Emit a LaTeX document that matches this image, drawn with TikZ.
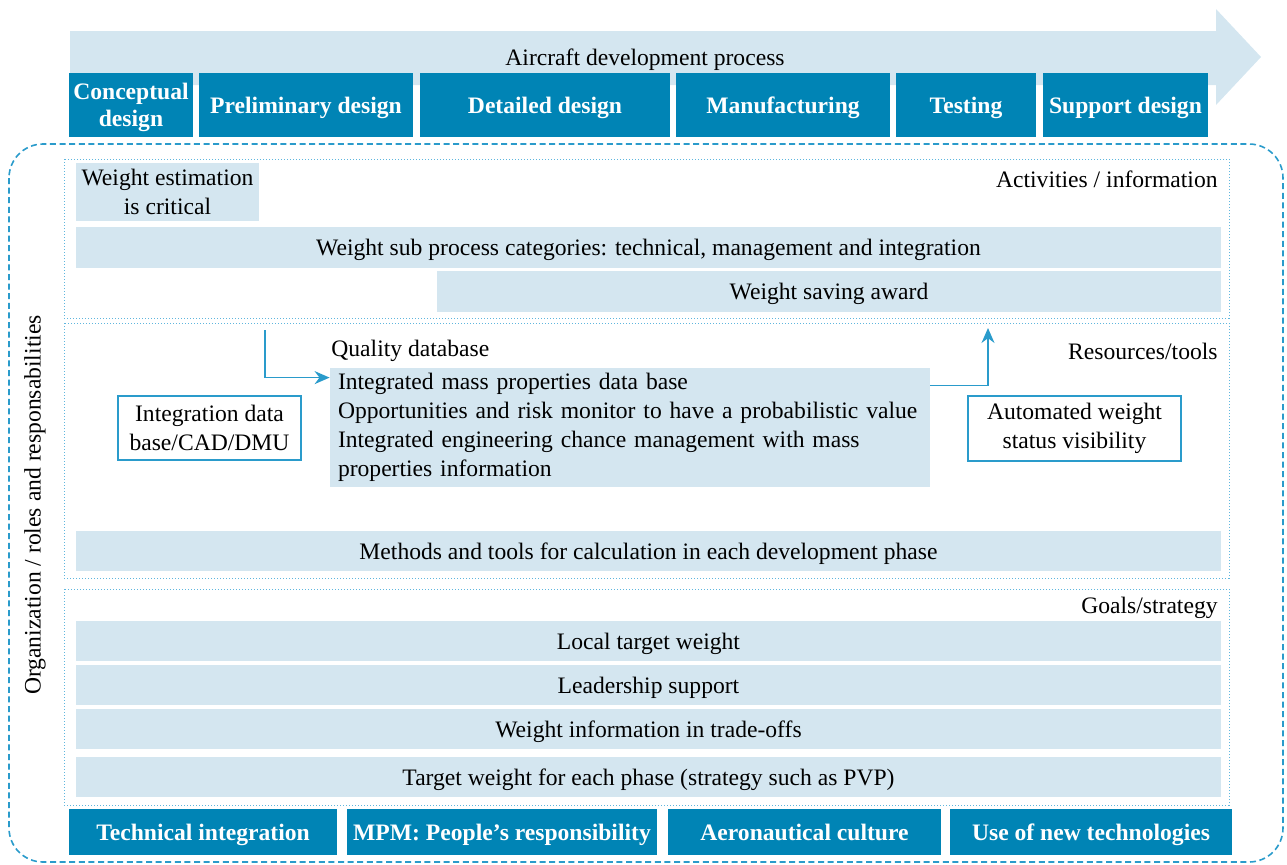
\documentclass[tikz,border=0pt]{standalone}
\usepackage{fontspec}
\setmainfont{Liberation Serif}
\usepackage{tikz}
\usetikzlibrary{arrows.meta}
\definecolor{phaseblue}{RGB}{0,132,181}
\definecolor{paleblue}{RGB}{212,230,240}
\definecolor{lineblue}{RGB}{42,155,203}
\definecolor{dotblue}{RGB}{95,182,222}
\tikzset{
  phase/.style = {fill=phaseblue, text=white, inner sep=0pt, text depth=0pt, font=\bfseries\fontsize{11.8}{13.5}\selectfont, align=center},
  bar/.style = {fill=paleblue, inner sep=0pt, text depth=0pt, align=center},
  note/.style = {fill=paleblue, inner sep=0pt, text width=292pt, align=left},
  tool/.style = {draw=lineblue, line width=0.8pt, fill=white, inner sep=0pt, align=center},
  layer/.style = {draw=dotblue, densely dotted, line width=0.5pt},
  tag/.style = {inner sep=0pt},
  flow/.style = {draw=lineblue, line width=0.8pt, -{Stealth[length=7.5pt,width=6.5pt]}}
}
% block from corner (x1,y1) to corner (x2,y2), in pixel units
\newcommand{\blk}[7]{\node[#2, minimum width={(#5-#3)*0.5pt}, minimum height={(#6-#4)*0.5pt}] (#1) at ({(#3+#5)/2},{(#4+#6)/2}) {#7};}

\begin{document}
\begin{tikzpicture}[x=0.5pt, y=-0.5pt, font=\fontsize{11.8}{14.5}\selectfont]
\useasboundingbox (0,0) rectangle (1287,864);
% process arrow
\fill[paleblue] (70,31) -- (1216,31) -- (1216,9) -- (1261,57) -- (1216,105) -- (1216,85) -- (70,85) -- cycle;
\node[tag] (process) at (645,60) {Aircraft development process};
\blk{concept}{phase}{69}{73}{193}{137}{Conceptual\\design}
\blk{prelim}{phase}{199}{73}{413}{137}{Preliminary design}
\blk{detail}{phase}{420}{73}{670}{137}{Detailed design}
\blk{manuf}{phase}{676}{73}{890}{137}{Manufacturing}
\blk{testing}{phase}{896}{73}{1036}{137}{Testing}
\blk{support}{phase}{1043}{73}{1208}{137}{Support design}

% organization frame
\draw[lineblue, line width=0.8pt, dash pattern=on 3pt off 1.8pt, rounded corners=17pt] (9,144) rectangle (1283,862);
\node[tag, rotate=90] (org) at (35,505) {Organization / roles and responsabilities};

% activities / information
\draw[layer] (64,159) rectangle (1229,318);
\node[tag, anchor=east] (activ) at (1218,179) {Activities / information};
\blk{critical}{bar}{76}{163}{259}{221}{Weight estimation\\is critical}
\blk{subproc}{bar}{76}{227}{1221}{268}{Weight sub process categories: technical, management and integration}
\blk{award}{bar}{437}{271}{1221}{312}{Weight saving award}

% resources / tools
\draw[layer] (64,323) rectangle (1229,578);
\node[tag, anchor=east] (resour) at (1218,351) {Resources/tools};
\node[tag, anchor=west] (quality) at (331,351) {Quality database};
\blk{qdb}{note}{330}{368}{930}{487}{Integrated mass properties data base\\
Opportunities and risk monitor to have a probabilistic value\\
Integrated engineering chance management with mass\\
properties information}
\blk{cad}{tool}{118}{396}{301}{460}{Integration data\\base/CAD/DMU}
\blk{status}{tool}{968}{396}{1181}{461}{Automated weight\\status visibility}
\blk{methods}{bar}{76}{531}{1221}{571}{Methods and tools for calculation in each development phase}
\coordinate (qin) at (265,330);
\coordinate (qout) at (988,328);
\draw[flow] (qin) |- ([yshift=-5pt]qdb.north west);
\draw[flow] ([yshift=-9pt]qdb.north east) -| (qout);

% goals / strategy
\draw[layer] (64,589) rectangle (1229,805);
\node[tag, anchor=east] (goals) at (1218,608) {Goals/strategy};
\blk{local}{bar}{76}{621}{1221}{661}{Local target weight}
\blk{leader}{bar}{76}{665}{1221}{705}{Leadership support}
\blk{trade}{bar}{76}{709}{1221}{749}{Weight information in trade-offs}
\blk{target}{bar}{76}{757}{1221}{797}{Target weight for each phase (strategy such as PVP)}

% enablers
\blk{techint}{phase}{69}{809}{337}{855}{Technical integration}
\blk{mpm}{phase}{347}{809}{657}{855}{MPM: People's responsibility}
\blk{aerocult}{phase}{668}{809}{941}{855}{Aeronautical culture}
\blk{newtech}{phase}{950}{809}{1232}{855}{Use of new technologies}
\end{tikzpicture}
\end{document}
